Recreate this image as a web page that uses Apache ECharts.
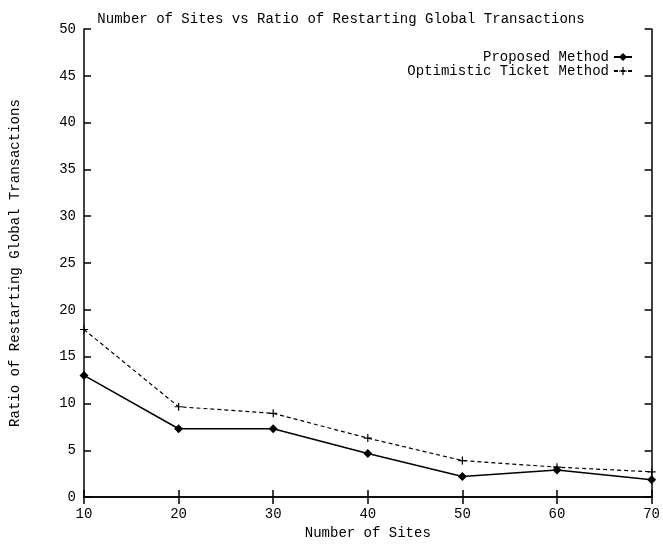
<!DOCTYPE html>
<html><head><meta charset="utf-8">
<script src="https://cdn.jsdelivr.net/npm/echarts@6/dist/echarts.min.js"></script>
<style>html,body{margin:0;padding:0;background:#fff}#c{width:663px;height:545px}</style>
</head><body><div id="c"></div>
<script>
const sites = [10, 20, 30, 40, 50, 60, 70];
const proposed = [13.0, 7.3, 7.3, 4.65, 2.2, 2.9, 1.85];
const optimistic = [17.9, 9.65, 8.95, 6.3, 3.9, 3.2, 2.7];
const seriesNames = ['Proposed Method', 'Optimistic Ticket Method'];
const font = 'Liberation Mono';
const chart = echarts.init(document.getElementById('c'));
const plus = 'path://M0,3.4H8V4.6H0Z M3.4,0H4.6V8H3.4Z';
const axisCommon = {
  type: 'value', splitLine: {show: false},
  axisLine: {show: true, lineStyle: {color: '#000', width: 1.5}},
  axisTick: {show: true, inside: true, length: 7, lineStyle: {color: '#000', width: 1.5}}
};
chart.setOption({
  animation: false,
  title: {text: 'Number of Sites vs Ratio of Restarting Global Transactions', left: 336, top: 7, textAlign: 'center',
    textStyle: {fontFamily: font, fontSize: 14, fontWeight: 'normal', color: '#000'}},
  grid: {left: 80, right: 11, top: 29, bottom: 43},
  legend: {right: 25, top: 45, orient: 'vertical', align: 'right', itemGap: 0, itemWidth: 18, itemHeight: 10,
    textStyle: {fontFamily: font, fontSize: 14, color: '#000'}, data: seriesNames},
  xAxis: [
    Object.assign({}, axisCommon, {min: 10, max: 70, interval: 10, name: 'Number of Sites', nameLocation: 'middle', nameGap: 25,
      nameTextStyle: {fontFamily: font, fontSize: 14, color: '#000'},
      axisLabel: {fontFamily: font, fontSize: 14, color: '#000', margin: 10}}),
    Object.assign({}, axisCommon, {position: 'top', min: 10, max: 70, interval: 10, axisLabel: {show: false}})
  ],
  yAxis: [
    Object.assign({}, axisCommon, {min: 0, max: 50, interval: 5, name: 'Ratio of Restarting Global Transactions', nameLocation: 'middle', nameGap: 62,
      nameTextStyle: {fontFamily: font, fontSize: 14, color: '#000'},
      axisLabel: {fontFamily: font, fontSize: 14, color: '#000', margin: 8}}),
    Object.assign({}, axisCommon, {position: 'right', min: 0, max: 50, interval: 5, axisLabel: {show: false}})
  ],
  series: [
    {name: seriesNames[0], type: 'line', data: sites.map((s, i) => [s, proposed[i]]),
      symbol: 'diamond', symbolSize: 9, itemStyle: {color: '#000'}, lineStyle: {color: '#000', width: 1.5}},
    {name: seriesNames[1], type: 'line', data: sites.map((s, i) => [s, optimistic[i]]),
      symbol: plus, symbolSize: 8, itemStyle: {color: '#000'}, lineStyle: {color: '#000', width: 1.2, type: [4, 3]}}
  ]
});
</script></body></html>
